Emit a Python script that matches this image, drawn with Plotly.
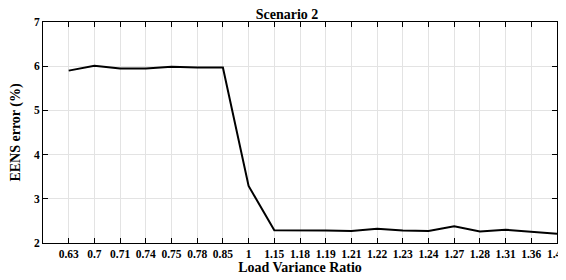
import plotly.graph_objects as go

categories = ["0.63", "0.7", "0.71", "0.74", "0.75", "0.78", "0.85", "1", "1.15", "1.18",
              "1.19", "1.21", "1.22", "1.23", "1.24", "1.27", "1.28", "1.31", "1.36", "1.47"]
eens_error = [5.90, 6.01, 5.95, 5.95, 5.99, 5.97, 5.97, 3.29, 2.29, 2.29,
              2.28, 2.27, 2.32, 2.28, 2.27, 2.38, 2.26, 2.30, 2.25, 2.21]
y_ticks = [2, 3, 4, 5, 6, 7]

serif = "Liberation Serif"

fig = go.Figure()
fig.add_trace(go.Scatter(
    x=list(range(len(categories))), y=eens_error, mode="lines",
    line=dict(color="black", width=2), showlegend=False,
))

fig.update_layout(
    width=558, height=272,
    margin=dict(l=35, r=9, t=14, b=37, autoexpand=False),
    paper_bgcolor="white", plot_bgcolor="white",
    font=dict(family=serif, color="black"),
    title=dict(text="<b>Scenario 2</b>", x=0.5, xanchor="center", y=0.977, yanchor="middle",
               font=dict(size=14, family=serif, color="black")),
)
fig.update_xaxes(
    range=[-1, len(categories) - 1],
    tickmode="array", tickvals=list(range(len(categories))),
    ticktext=[f"<b>{c}</b>" for c in categories],
    tickfont=dict(size=11.5, family=serif),
    ticklabeloverflow="allow",
    ticks="inside", ticklen=5, tickcolor="black",
    showline=True, linecolor="black", linewidth=1, mirror="ticks",
    showgrid=True, gridcolor="#e3e3e3", gridwidth=1, zeroline=False,
    automargin=False,
    title=dict(text="<b>Load Variance Ratio</b>", font=dict(size=14, family=serif), standoff=0),
)
fig.update_yaxes(
    range=[2, 7], tickvals=y_ticks,
    ticktext=[f"<b>{v}</b>" for v in y_ticks],
    tickfont=dict(size=11.5, family=serif),
    ticks="inside", ticklen=5, tickcolor="black",
    showline=True, linecolor="black", linewidth=1, mirror="ticks",
    showgrid=True, gridcolor="#e3e3e3", gridwidth=1, zeroline=False,
    automargin=False,
    title=dict(text="<b>EENS error (%)</b>", font=dict(size=14, family=serif), standoff=12),
)

fig.write_html("out.html")
